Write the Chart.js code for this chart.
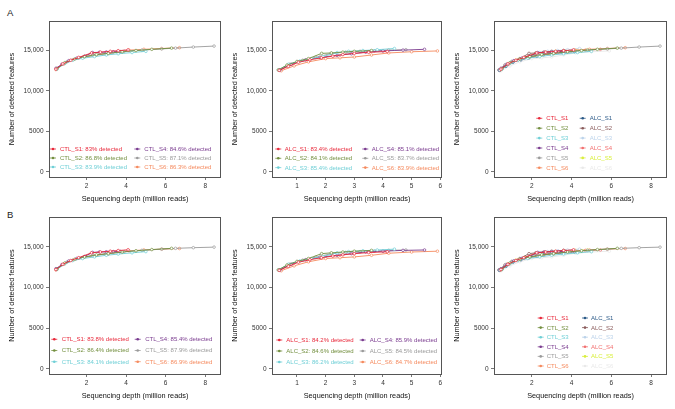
<!DOCTYPE html>
<html>
<head>
<meta charset="utf-8">
<script src="https://cdn.jsdelivr.net/npm/chart.js@4.4.1/dist/chart.umd.min.js"></script>
<style>
  html, body { margin: 0; padding: 0; background: #fff; }
  #fig { position: relative; width: 675px; height: 409px; overflow: hidden; font-family: "Liberation Sans", Arial, sans-serif; }
  #fig canvas { position: absolute; }
  .tag { position: absolute; font-size: 9.5px; color: #222; line-height: 1; }
</style>
</head>
<body>
<div id="fig">
  <div class="tag" style="left:7px;top:8px">A</div>
  <div class="tag" style="left:7px;top:210px">B</div>
</div>
<script>
// sample names and % detected (legend text)
const ctlNames = ["CTL_S1", "CTL_S2", "CTL_S3", "CTL_S4", "CTL_S5", "CTL_S6"];
const alcNames = ["ALC_S1", "ALC_S2", "ALC_S3", "ALC_S4", "ALC_S5", "ALC_S6"];
const ctlPctA = ["83%", "86.8%", "83.9%", "84.6%", "87.1%", "86.3%"];
const alcPctA = ["83.4%", "84.1%", "85.4%", "85.1%", "83.7%", "83.9%"];
const ctlPctB = ["83.8%", "86.4%", "84.1%", "85.4%", "87.9%", "86.9%"];
const alcPctB = ["84.2%", "84.6%", "86.2%", "85.9%", "84.5%", "84.7%"];

// sequencing depth (million reads) at each rarefaction step
const ctlDepth = [
  [0.45, 0.8, 1.2, 1.6, 2.25, 2.7, 3.2, 3.6, 4.1],
  [0.5, 0.9, 1.4, 1.9, 2.5, 3.1, 3.8, 4.5, 5.3, 6.3],
  [0.5, 0.9, 1.3, 1.8, 2.4, 3.0, 3.6, 4.3, 5.0],
  [0.45, 0.75, 1.1, 1.5, 1.9, 2.3, 2.65, 3.0, 3.35, 3.7],
  [0.5, 1.0, 1.6, 2.3, 3.0, 3.9, 4.8, 5.8, 6.5, 7.4, 8.45],
  [0.45, 0.85, 1.3, 1.8, 2.4, 3.1, 4.15, 4.9, 5.8, 6.7]
];
const alcDepth = [
  [0.38, 0.7, 1.05, 1.45, 1.85, 2.25, 2.6, 3.0, 3.5, 4.15],
  [0.35, 0.65, 1.0, 1.4, 1.86, 2.2, 2.6, 3.0, 3.6],
  [0.35, 0.7, 1.1, 1.5, 1.9, 2.4, 2.8, 3.3, 3.8, 4.4],
  [0.4, 0.8, 1.3, 1.8, 2.4, 2.9, 3.4, 4.0, 4.7, 5.45],
  [0.4, 0.75, 1.2, 1.65, 2.2, 2.7, 3.2, 3.7, 4.2, 4.8],
  [0.45, 0.9, 1.4, 2.0, 2.5, 3.0, 3.6, 4.2, 5.0, 5.9]
];

// number of detected features, row A
const ctlFeatA = [
  [12700, 13350, 13800, 14150, 14700, 14800, 14900, 14980, 15080],
  [12750, 13500, 13950, 14250, 14500, 14650, 14850, 15000, 15150, 15300],
  [12700, 13400, 13800, 14050, 14250, 14450, 14600, 14750, 14900],
  [12800, 13300, 13750, 14050, 14300, 14750, 14780, 14820, 14850, 14870],
  [12800, 13600, 14100, 14400, 14650, 14900, 15050, 15200, 15300, 15430, 15550],
  [12650, 13350, 13850, 14150, 14400, 14650, 15050, 15150, 15250, 15350]
];
const alcFeatA = [
  [12550, 13050, 13550, 13850, 14100, 14300, 14500, 14650, 14780, 14880],
  [12600, 13200, 13650, 14000, 14650, 14700, 14800, 14900, 15000],
  [12600, 13300, 13700, 14000, 14250, 14750, 14900, 15000, 15100, 15250],
  [12600, 13300, 13850, 14150, 14400, 14600, 14800, 14950, 15050, 15150],
  [12600, 13300, 13800, 14150, 14650, 14800, 14900, 14950, 15050, 15100],
  [12500, 13100, 13600, 14000, 14100, 14200, 14450, 14700, 14850, 14950]
];

// number of detected features, row B
const ctlFeatB = [
  [12200, 12850, 13300, 13650, 14250, 14350, 14450, 14530, 14620],
  [12250, 13000, 13450, 13750, 14000, 14150, 14350, 14500, 14650, 14800],
  [12200, 12900, 13300, 13550, 13750, 13950, 14100, 14250, 14400],
  [12300, 12800, 13250, 13550, 13800, 14300, 14350, 14380, 14400, 14420],
  [12300, 13100, 13600, 13900, 14150, 14400, 14550, 14700, 14800, 14880, 14950],
  [12150, 12850, 13350, 13650, 13900, 14150, 14500, 14600, 14700, 14780]
];
const alcFeatB = [
  [12100, 12600, 13100, 13400, 13650, 13850, 14000, 14150, 14280, 14380],
  [12150, 12750, 13200, 13550, 14150, 14250, 14350, 14450, 14550],
  [12150, 12850, 13250, 13550, 13800, 14250, 14400, 14500, 14600, 14700],
  [12150, 12850, 13400, 13700, 13950, 14150, 14350, 14450, 14550, 14600],
  [12150, 12850, 13350, 13700, 14150, 14300, 14400, 14450, 14550, 14600],
  [12050, 12650, 13150, 13550, 13650, 13750, 13950, 14200, 14350, 14450]
];

const xTicksWide = [2, 4, 6, 8];
const xTicksNarrow = [1, 2, 3, 4, 5, 6];
const yTicks = [0, 5000, 10000, 15000];

const palette1 = ["#e8283a", "#738f3f", "#6fcfd6", "#7a3b8f", "#9a9a9a", "#f58a5e"];
const palette2 = ["#2c5a88", "#8a5c5c", "#bcd3ea", "#f27070", "#d9ef3c", "#e9e9e9"];

const FONT = "'Liberation Sans', Arial, sans-serif";

function group(names, depth, feat, colors, pct) {
  return names.map((n, i) => ({
    label: n,
    text: pct ? n + ": " + pct[i] + " detected" : n,
    color: colors[i],
    pts: depth[i].map((x, j) => ({ x: x, y: feat[i][j] }))
  }));
}

// area = [left, top, right, bottom] of the plot box on the page
const panels = [
  { area: [49, 21, 221, 177], xr: [0.1, 8.8], xt: xTicksWide,
    series: group(ctlNames, ctlDepth, ctlFeatA, palette1, ctlPctA),
    lg: { rows: 3, cols: [4, 88.3], y0: 128, dy: 9, gap: 7 } },
  { area: [272, 21, 442, 177], xr: [0.128, 6.06], xt: xTicksNarrow,
    series: group(alcNames, alcDepth, alcFeatA, palette1, alcPctA),
    lg: { rows: 3, cols: [6.3, 93.3], y0: 128, dy: 9.3, gap: 6.5 } },
  { area: [494, 21, 667, 177], xr: [0.1, 8.8], xt: xTicksWide,
    series: group(ctlNames, ctlDepth, ctlFeatA, palette1, null)
      .concat(group(alcNames, alcDepth, alcFeatA, palette2, null)),
    lg: { rows: 6, cols: [45.3, 88.7], y0: 97.3, dy: 9.9, gap: 7 } },
  { area: [49, 217, 221, 374], xr: [0.1, 8.8], xt: xTicksWide,
    series: group(ctlNames, ctlDepth, ctlFeatB, palette1, ctlPctB),
    lg: { rows: 3, cols: [5.3, 88.7], y0: 122.3, dy: 11.2, gap: 7.5 } },
  { area: [272, 217, 442, 374], xr: [0.128, 6.06], xt: xTicksNarrow,
    series: group(alcNames, alcDepth, alcFeatB, palette1, alcPctB),
    lg: { rows: 3, cols: [7.3, 90.7], y0: 123, dy: 11, gap: 7 } },
  { area: [494, 217, 667, 374], xr: [0.1, 8.8], xt: xTicksWide,
    series: group(ctlNames, ctlDepth, ctlFeatB, palette1, null)
      .concat(group(alcNames, alcDepth, alcFeatB, palette2, null)),
    lg: { rows: 6, cols: [46.7, 91], y0: 101, dy: 9.6, gap: 6 } }
];

const LEFT = 49, TOP = 21, RIGHT = 6, BOTTOM = 27;

// box around the plot + legend inside the panel
const boxAndLegend = {
  id: "boxAndLegend",
  afterDraw(chart, args, opts) {
    const ctx = chart.ctx, a = chart.chartArea;
    ctx.save();
    ctx.strokeStyle = "#555";
    ctx.lineWidth = 1;
    ctx.strokeRect(Math.round(a.left) + 0.5, Math.round(a.top) + 0.5,
      Math.round(a.right - a.left) - 1, Math.round(a.bottom - a.top));
    const lg = opts.lg;
    ctx.font = "6px " + FONT;
    ctx.textBaseline = "middle";
    opts.series.forEach((s, i) => {
      const c = Math.floor(i / lg.rows), r = i % lg.rows;
      const cx = a.left + lg.cols[c], cy = a.top + lg.y0 + r * lg.dy;
      ctx.strokeStyle = s.color;
      ctx.fillStyle = s.color;
      ctx.lineWidth = 0.8;
      ctx.beginPath();
      ctx.moveTo(cx - 3, cy);
      ctx.lineTo(cx + 3, cy);
      ctx.stroke();
      ctx.beginPath();
      ctx.arc(cx, cy, 1.3, 0, Math.PI * 2);
      ctx.fill();
      ctx.fillText(s.text, cx + lg.gap, cy + 0.3);
    });
    ctx.restore();
  }
};

const fig = document.getElementById("fig");

panels.forEach(p => {
  const [l, t, r, b] = p.area;
  const cv = document.createElement("canvas");
  const w = (r - l) + LEFT + RIGHT, h = (b - t) + TOP + BOTTOM;
  cv.style.left = (l - LEFT) + "px";
  cv.style.top = (t - TOP) + "px";
  cv.style.width = w + "px";
  cv.style.height = h + "px";
  cv.width = w; cv.height = h;
  fig.appendChild(cv);

  new Chart(cv.getContext("2d"), {
    type: "line",
    data: {
      datasets: p.series.map(s => ({
        label: s.label,
        data: s.pts,
        borderColor: s.color,
        backgroundColor: "#ffffff",
        borderWidth: 0.9,
        pointRadius: 1.3,
        pointBorderWidth: 0.7,
        pointBorderColor: s.color,
        pointBackgroundColor: "#ffffff",
        tension: 0,
        fill: false
      }))
    },
    options: {
      responsive: false,
      animation: false,
      devicePixelRatio: 1,
      layout: { padding: { left: 0, top: TOP, right: RIGHT, bottom: 0 } },
      plugins: {
        legend: { display: false },
        tooltip: { enabled: false },
        boxAndLegend: { lg: p.lg, series: p.series }
      },
      scales: {
        x: {
          type: "linear",
          min: p.xr[0], max: p.xr[1],
          afterBuildTicks: s => { s.ticks = p.xt.map(v => ({ value: v })); },
          afterFit: s => { s.height = BOTTOM; },
          border: { display: false },
          grid: { drawOnChartArea: false, drawTicks: true, tickLength: 3, color: "#555", lineWidth: 0.8 },
          ticks: { padding: 2, color: "#333", font: { family: FONT, size: 6.5 }, maxRotation: 0 },
          title: { display: true, text: "Sequencing depth (million reads)", color: "#111",
                   font: { family: FONT, size: 7.3 }, padding: { top: 0, bottom: 0.4 } }
        },
        y: {
          type: "linear",
          min: -630, max: 18650,
          afterBuildTicks: s => { s.ticks = yTicks.map(v => ({ value: v })); },
          afterFit: s => { s.width = LEFT; },
          border: { display: false },
          grid: { drawOnChartArea: false, drawTicks: true, tickLength: 3, color: "#555", lineWidth: 0.8 },
          ticks: {
            padding: 2.5, color: "#333", font: { family: FONT, size: 6.5 },
            callback: v => v >= 10000 ? v.toLocaleString("en-US") : String(v)
          },
          title: { display: true, text: "Number of detected features", color: "#111",
                   font: { family: FONT, size: 7.3 }, padding: { top: 7.5, bottom: 0 } }
        }
      }
    },
    plugins: [boxAndLegend]
  });
});
</script>
</body>
</html>
